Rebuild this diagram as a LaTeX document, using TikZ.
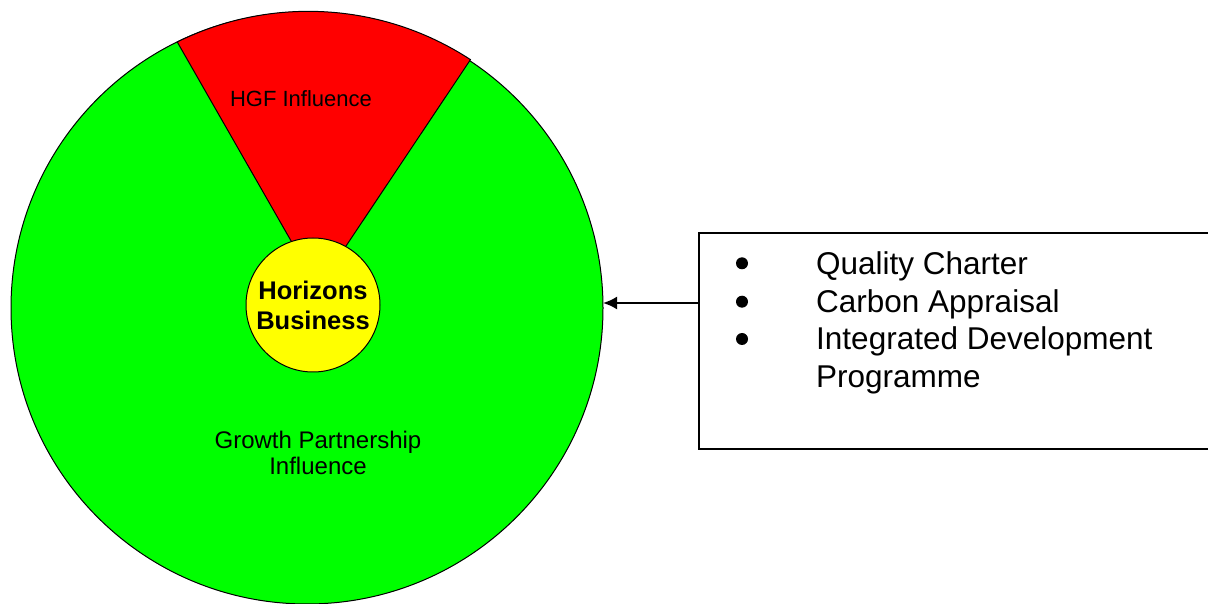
\documentclass[tikz,border=0pt]{standalone}
\usepackage{fontspec}
\setmainfont{Liberation Sans}
\usetikzlibrary{arrows.meta}
\definecolor{hgfred}{RGB}{255,0,0}
\definecolor{gpgreen}{RGB}{0,255,0}
\definecolor{hbyellow}{RGB}{255,255,0}

\begin{document}
\begin{tikzpicture}[x=1pt,y=1pt,
    zone/.style={draw=black, line width=1pt, outer sep=0pt},
    zonetext/.style={font=\fontsize{22}{26}\selectfont, align=center},
    itemtext/.style={font=\fontsize{31.5}{37.7}\selectfont, anchor=base west, inner sep=0pt},
    dot/.style={circle, fill=black, inner sep=0pt, minimum size=12pt}]
    \useasboundingbox (0,0) rectangle (1208,603);
    \clip (0,0) rectangle (1208,603);

    % Draw the outer circle
    \node[zone, fill=gpgreen, circle, minimum size=592pt, inner sep=0pt] (outer) at (307,295) {};

    % Draw the HGF sector
    \coordinate (apex) at (318,315);
    \draw[zone, fill=hgfred] (apex) -- (outer.116.3) arc[start angle=116.3, end angle=56.8, radius=296] -- cycle;

    % Draw the centre circle
    \node[zone, fill=hbyellow, circle, minimum size=134pt, inner sep=0pt,
          font=\bfseries\fontsize{25.5}{30}\selectfont, align=center] (core) at (313,298) {Horizons\\Business};

    % Labels of the zones
    \node[zonetext] (hgflabel) at (301,504) {HGF Influence};
    \node[zonetext, font=\fontsize{24}{26}\selectfont] (gplabel) at (318,150) {Growth Partnership\\Influence};

    % Draw the box with the list
    \node[draw, line width=2pt, anchor=north west, minimum width=520pt, minimum height=216pt, inner sep=0pt] (box) at (698,371) {};
    \foreach \y/\item in {328.7/Quality Charter, 290.3/Carbon Appraisal, 253/Integrated Development} {
        \node[dot] at (742,\y+11) {};
        \node[itemtext] at (816,\y) {\item};
    }
    \node[itemtext] (lastline) at (816,215.7) {Programme};

    % Draw the arrow to the outer circle
    \coordinate (tail) at (box.west |- 0,300);
    \draw[line width=2pt, -{Latex[length=14pt,width=13pt]}] (tail) -- (tail -| outer.east);
\end{tikzpicture}
\end{document}
